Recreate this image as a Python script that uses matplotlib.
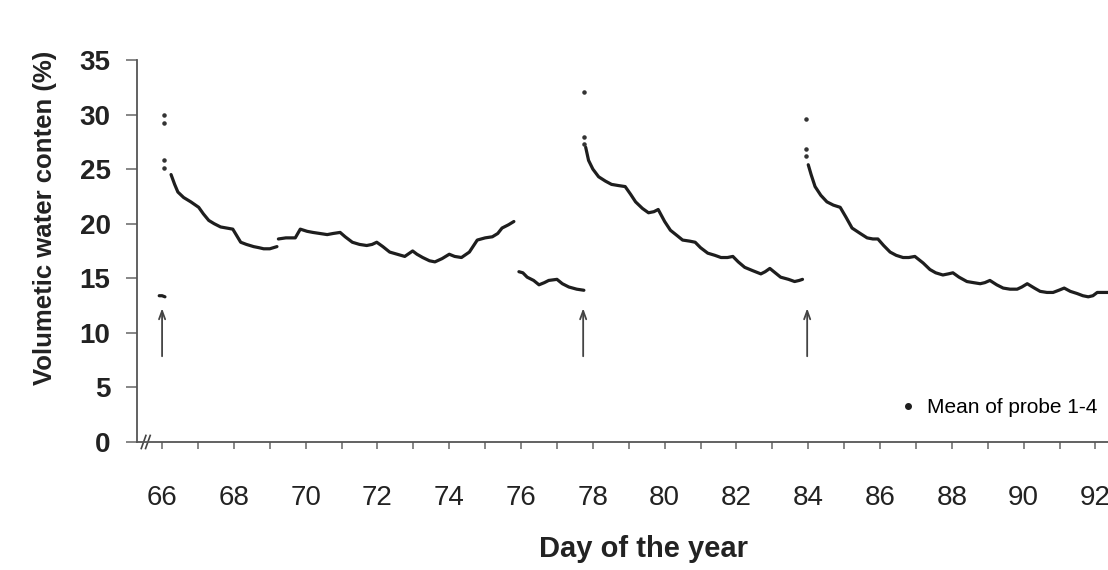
import matplotlib.pyplot as plt

plt.rcParams['font.family'] = ['Liberation Sans', 'DejaVu Sans']

# single reading before the first irrigation
pre_day = [65.92, 66.0, 66.08]
pre_vwc = [13.4, 13.4, 13.3]

# scattered readings right after each irrigation
spike_day = [66.05, 66.05, 66.05, 66.05, 77.75, 77.75, 77.75, 83.93, 83.93, 83.93]
spike_vwc = [30.0, 29.2, 25.8, 25.1, 32.1, 27.9, 27.3, 29.6, 26.8, 26.2]

seg1_day = [66.25, 66.35, 66.44, 66.6, 66.8, 67.02, 67.15, 67.3, 67.45, 67.63, 67.8, 67.97,
            68.08, 68.19, 68.35, 68.55, 68.7, 68.83, 69.0, 69.2]
seg1_vwc = [24.5, 23.6, 22.9, 22.4, 22.0, 21.5, 20.9, 20.3, 20.0, 19.7, 19.6, 19.5,
            18.9, 18.3, 18.1, 17.9, 17.8, 17.7, 17.7, 17.9]

seg2_day = [69.24, 69.45, 69.71, 69.85, 70.04, 70.2, 70.4, 70.6, 70.76, 70.96, 71.1, 71.3,
            71.5, 71.7, 71.85, 71.98, 72.15, 72.34, 72.55, 72.76, 72.98, 73.1, 73.26, 73.45,
            73.6, 73.8, 74.0, 74.15, 74.34, 74.56, 74.78, 75.0, 75.2, 75.35, 75.47, 75.65, 75.8]
seg2_vwc = [18.6, 18.7, 18.7, 19.5, 19.3, 19.2, 19.1, 19.0, 19.1, 19.2, 18.8, 18.3,
            18.1, 18.0, 18.1, 18.3, 17.9, 17.4, 17.2, 17.0, 17.5, 17.2, 16.9, 16.6,
            16.5, 16.8, 17.2, 17.0, 16.9, 17.4, 18.5, 18.7, 18.8, 19.1, 19.6, 19.9, 20.2]

seg3_day = [75.94, 76.05, 76.17, 76.35, 76.5, 76.65, 76.77, 77.0, 77.15, 77.33, 77.55, 77.75]
seg3_vwc = [15.6, 15.5, 15.1, 14.8, 14.4, 14.6, 14.8, 14.9, 14.5, 14.2, 14.0, 13.9]

seg4_day = [77.8, 77.88, 78.0, 78.16, 78.35, 78.52, 78.7, 78.9, 79.05, 79.19, 79.38, 79.55,
            79.7, 79.82, 80.0, 80.16, 80.35, 80.5, 80.7, 80.85, 81.0, 81.2, 81.4, 81.57,
            81.75, 81.9, 82.05, 82.23, 82.45, 82.68, 82.8, 82.93, 83.08, 83.23, 83.45, 83.62,
            83.75, 83.84]
seg4_vwc = [27.0, 25.8, 25.0, 24.3, 23.9, 23.6, 23.5, 23.4, 22.7, 22.0, 21.4, 21.0,
            21.1, 21.3, 20.2, 19.4, 18.9, 18.5, 18.4, 18.3, 17.8, 17.3, 17.1, 16.9,
            16.9, 17.0, 16.5, 16.0, 15.7, 15.4, 15.6, 15.9, 15.5, 15.1, 14.9, 14.7,
            14.8, 14.9]

seg5_day = [84.0, 84.08, 84.19, 84.35, 84.52, 84.7, 84.89, 85.05, 85.22, 85.45, 85.64, 85.8,
            85.94, 86.1, 86.28, 86.45, 86.64, 86.8, 86.97, 87.2, 87.39, 87.55, 87.75, 87.9,
            88.03, 88.2, 88.42, 88.6, 88.79, 88.92, 89.06, 89.25, 89.43, 89.62, 89.82, 89.95,
            90.1, 90.3, 90.46, 90.65, 90.82, 90.98, 91.13, 91.3, 91.49, 91.65, 91.8, 91.93,
            92.05, 92.2, 92.35]
seg5_vwc = [25.4, 24.5, 23.4, 22.6, 22.0, 21.7, 21.5, 20.6, 19.6, 19.1, 18.7, 18.6,
            18.6, 18.0, 17.4, 17.1, 16.9, 16.9, 17.0, 16.4, 15.8, 15.5, 15.3, 15.4,
            15.5, 15.1, 14.7, 14.6, 14.5, 14.6, 14.8, 14.4, 14.1, 14.0, 14.0, 14.2,
            14.5, 14.1, 13.8, 13.7, 13.7, 13.9, 14.1, 13.8, 13.6, 13.4, 13.3, 13.4,
            13.7, 13.7, 13.7]

# irrigation events
irrig_day = [66.0, 77.73, 83.97]

segments = [(pre_day, pre_vwc), (seg1_day, seg1_vwc), (seg2_day, seg2_vwc),
            (seg3_day, seg3_vwc), (seg4_day, seg4_vwc), (seg5_day, seg5_vwc)]

fig = plt.figure(figsize=(11.08, 5.70), dpi=100)
ax = fig.add_axes([0.1236, 0.2246, 0.8764, 0.6702])

line_col = '#1e1e1e'
for d, v in segments:
    ax.plot(d, v, color=line_col, lw=2.3, solid_capstyle='round', solid_joinstyle='round')
ax.scatter(spike_day, spike_vwc, s=5, color='#333333', zorder=3)

for d in irrig_day:
    ax.annotate('', xy=(d, 12.5), xytext=(d, 7.6),
                arrowprops=dict(arrowstyle='->,head_length=0.6,head_width=0.22',
                                color='#444444', lw=1.3))

ax.set_xlim(65.30, 92.35)
ax.set_ylim(0, 35)
ax.set_xticks(range(66, 93, 2))
ax.set_xticks(range(67, 93, 2), minor=True)
ax.set_yticks(range(0, 36, 5))

for s in ['top', 'right']:
    ax.spines[s].set_visible(False)
for s in ['left', 'bottom']:
    ax.spines[s].set_color('#555555')
    ax.spines[s].set_linewidth(1.3)

ax.tick_params(axis='y', length=8, width=1.1, color='#666666', pad=11,
               labelsize=20, labelcolor='#222222')
ax.tick_params(axis='x', which='both', length=5, width=1.1, color='#666666', pad=26,
               labelsize=20, labelcolor='#222222')
for t in ax.get_yticklabels():
    t.set_fontweight('bold')

# axis break marks
for off in [0.0, 0.12]:
    ax.plot([65.42 + off, 65.55 + off], [-0.6, 0.6], color='#444444', lw=1.2, clip_on=False)

ax.set_ylabel('Volumetic water conten (%)', fontsize=18.5, fontweight='bold', color='#222222')
ax.yaxis.set_label_coords(-0.082, 0.586)
ax.set_xlabel('Day of the year', fontsize=21, fontweight='bold', color='#222222')
ax.xaxis.set_label_coords(0.522, -0.243)

h, = ax.plot([], [], 'o', color=line_col, markersize=4)
ax.legend([h], ['Mean of probe 1-4'], loc='lower right', frameon=False, fontsize=15,
          handletextpad=0.4, handlelength=1.0, bbox_to_anchor=(1.008, 0.015))

plt.savefig('out.png', dpi=100)
